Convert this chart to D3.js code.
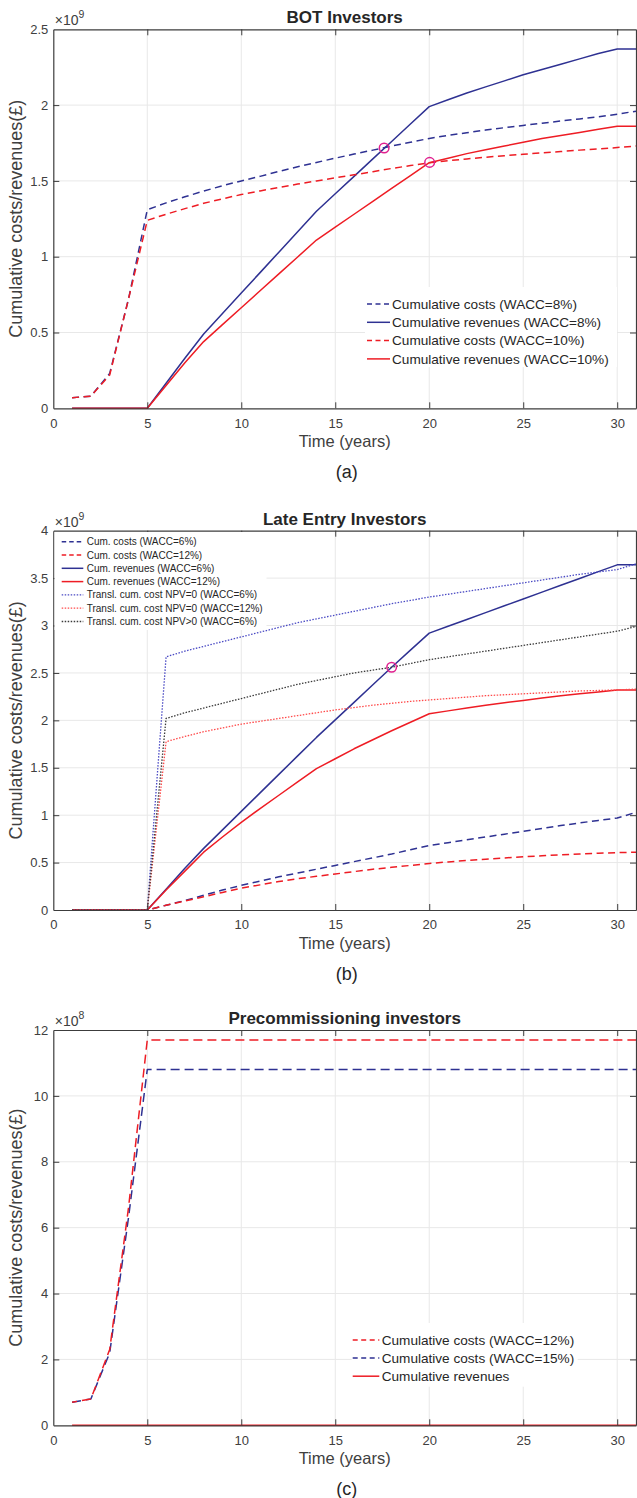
<!DOCTYPE html>
<html>
<head>
<meta charset="utf-8">
<script src="https://cdn.jsdelivr.net/npm/d3@7"></script>
<style>
  html, body { margin: 0; padding: 0; background: #fff; }
  svg { display: block; font-family: "Liberation Sans", Arial, Helvetica, sans-serif; }
</style>
</head>
<body>
<svg id="chart" width="637" height="1498"></svg>
<script>
// ---------------- DATA ----------------
const years = d3.range(1, 32); // 1..31
const xTicks = [0, 5, 10, 15, 20, 25, 30];

// Panel (a) BOT Investors, values in 1e9 GBP
const aTicks = [0, 0.5, 1, 1.5, 2, 2.5];
const aCostW8 = [0.07,0.08,0.23,0.72,1.31,1.355,1.395,1.433,1.468,1.50,1.53,1.563,1.593,1.622,1.65,1.677,1.703,1.73,1.755,1.78,1.80,1.818,1.835,1.851,1.866,1.881,1.895,1.909,1.922,1.94,1.96];
const aRevW8  = [0,0,0,0,0,0.165,0.33,0.49,0.625,0.76,0.895,1.03,1.165,1.30,1.415,1.53,1.645,1.76,1.875,1.99,2.035,2.08,2.12,2.16,2.20,2.235,2.27,2.305,2.34,2.37,2.37];
const aCostW10 = [0.07,0.08,0.22,0.72,1.24,1.28,1.317,1.352,1.382,1.41,1.434,1.457,1.479,1.50,1.52,1.54,1.561,1.582,1.601,1.62,1.633,1.645,1.656,1.666,1.676,1.685,1.694,1.703,1.711,1.72,1.73];
const aRevW10  = [0,0,0,0,0,0.15,0.30,0.44,0.552,0.663,0.775,0.887,0.998,1.11,1.195,1.28,1.365,1.45,1.535,1.62,1.65,1.68,1.705,1.73,1.755,1.78,1.80,1.82,1.84,1.86,1.86];
const aMarkX = [17.6, 20.02];
const aMarkY = [1.717, 1.622];
const aLegend = ["Cumulative costs (WACC=8%)", "Cumulative revenues (WACC=8%)", "Cumulative costs (WACC=10%)", "Cumulative revenues (WACC=10%)"];

// Panel (b) Late Entry Investors, values in 1e9 GBP
const bTicks = [0, 0.5, 1, 1.5, 2, 2.5, 3, 3.5, 4];
const bCostW6  = [0,0,0,0,0,0.05,0.10,0.155,0.21,0.26,0.305,0.35,0.39,0.43,0.47,0.51,0.55,0.59,0.635,0.68,0.71,0.74,0.77,0.80,0.83,0.86,0.89,0.918,0.945,0.97,1.03];
const bCostW12 = [0,0,0,0,0,0.05,0.095,0.14,0.185,0.23,0.265,0.30,0.33,0.355,0.38,0.405,0.43,0.45,0.47,0.49,0.507,0.522,0.536,0.549,0.561,0.572,0.582,0.591,0.599,0.605,0.61];
const bRevW6   = [0,0,0,0,0,0.22,0.44,0.65,0.845,1.04,1.235,1.43,1.625,1.82,2.005,2.19,2.375,2.56,2.74,2.92,2.992,3.064,3.136,3.208,3.28,3.352,3.424,3.496,3.568,3.64,3.64];
const bRevW12  = [0,0,0,0,0,0.21,0.41,0.61,0.77,0.925,1.07,1.21,1.35,1.49,1.595,1.70,1.795,1.89,1.98,2.07,2.10,2.13,2.16,2.185,2.21,2.235,2.26,2.28,2.30,2.32,2.32];
const bTranslNpv0W6  = [0,0,0,0,0,2.67,2.73,2.78,2.83,2.88,2.93,2.98,3.03,3.07,3.11,3.15,3.19,3.23,3.265,3.30,3.33,3.36,3.39,3.42,3.45,3.48,3.51,3.54,3.565,3.59,3.65];
const bTranslNpv0W12 = [0,0,0,0,0,1.775,1.83,1.88,1.92,1.96,1.99,2.02,2.05,2.08,2.11,2.135,2.16,2.18,2.20,2.215,2.23,2.245,2.26,2.27,2.28,2.29,2.30,2.31,2.315,2.32,2.33];
const bTranslNpvPosW6 = [0,0,0,0,0,2.02,2.08,2.13,2.18,2.23,2.28,2.33,2.38,2.42,2.46,2.50,2.53,2.56,2.60,2.64,2.67,2.70,2.73,2.76,2.79,2.82,2.85,2.88,2.91,2.94,2.99];
const bMarkX = [18.0];
const bMarkY = [2.56];
const bLegend = ["Cum. costs (WACC=6%)", "Cum. costs (WACC=12%)", "Cum. revenues (WACC=6%)", "Cum. revenues (WACC=12%)",
  "Transl. cum. cost NPV=0 (WACC=6%)", "Transl. cum. cost NPV=0 (WACC=12%)", "Transl. cum. cost NPV>0 (WACC=6%)"];

// Panel (c) Precommissioning investors, values in 1e8 GBP
const cTicks = [0, 2, 4, 6, 8, 10, 12];
const cCostW12 = [0.7,0.8,2.3,6.6,11.7,11.7,11.7,11.7,11.7,11.7,11.7,11.7,11.7,11.7,11.7,11.7,11.7,11.7,11.7,11.7,11.7,11.7,11.7,11.7,11.7,11.7,11.7,11.7,11.7,11.7,11.7];
const cCostW15 = [0.7,0.8,2.2,6.3,10.8,10.8,10.8,10.8,10.8,10.8,10.8,10.8,10.8,10.8,10.8,10.8,10.8,10.8,10.8,10.8,10.8,10.8,10.8,10.8,10.8,10.8,10.8,10.8,10.8,10.8,10.8];
const cRev = [0,0,0,0,0,0,0,0,0,0,0,0,0,0,0,0,0,0,0,0,0,0,0,0,0,0,0,0,0,0,0];
const cLegend = ["Cumulative costs (WACC=12%)", "Cumulative costs (WACC=15%)", "Cumulative revenues"];

// ---------------- STYLE ----------------
const BLUE = "#2e3192", RED = "#ee1c24", BLUE_DOT = "#4a4ac4", RED_DOT = "#ff4a4a", BLACK_DOT = "#3a3a3a", MAG = "#e0208f";
const AX = "#3c3c3c", TXT = "#404040", GRID = "#e8e8e8";
const L = 53.3, R = 636;

const svg = d3.select("#chart");

function drawPanel(p) {
  const g = svg.append("g");
  const x = d3.scaleLinear().domain([0, 31]).range([L, R]);
  const y = d3.scaleLinear().domain([0, p.ymax]).range([p.bottom, p.top]);

  // grid
  g.append("g").selectAll("line").data(xTicks.filter(d => d > 0)).join("line")
    .attr("x1", d => x(d)).attr("x2", d => x(d)).attr("y1", p.top).attr("y2", p.bottom)
    .attr("stroke", GRID).attr("stroke-width", 1);
  g.append("g").selectAll("line").data(p.yTicks.filter(d => d > 0 && d < p.ymax)).join("line")
    .attr("x1", L).attr("x2", R).attr("y1", d => y(d)).attr("y2", d => y(d))
    .attr("stroke", GRID).attr("stroke-width", 1);

  // series
  const line = d3.line().x((d, i) => x(years[i])).y(d => y(d));
  p.series.forEach(s => {
    g.append("path").datum(s.values).attr("d", line)
      .attr("fill", "none").attr("stroke", s.color).attr("stroke-width", s.width || 1.5)
      .attr("stroke-dasharray", s.dash || null).attr("stroke-dashoffset", s.offset || 0)
      .attr("stroke-linejoin", "round");
  });

  // markers
  if (p.marks) {
    g.append("g").selectAll("circle").data(p.marks.x).join("circle")
      .attr("cx", d => x(d)).attr("cy", (d, i) => y(p.marks.y[i])).attr("r", 4.8)
      .attr("fill", "none").attr("stroke", MAG).attr("stroke-width", 1.5);
  }

  // axes
  const fmt = d3.format("~g");
  const bx = g.append("g").attr("transform", `translate(0,${p.bottom})`)
    .call(d3.axisBottom(x).tickValues(xTicks).tickSize(-6).tickSizeOuter(0).tickPadding(10).tickFormat(fmt));
  const tx = g.append("g").attr("transform", `translate(0,${p.top})`)
    .call(d3.axisTop(x).tickValues(xTicks).tickSize(-6).tickSizeOuter(0).tickFormat(""));
  const ly = g.append("g").attr("transform", `translate(${L},0)`)
    .call(d3.axisLeft(y).tickValues(p.yTicks).tickSize(-6).tickSizeOuter(0).tickPadding(5).tickFormat(fmt));
  const ry = g.append("g").attr("transform", `translate(${R},0)`)
    .call(d3.axisRight(y).tickValues(p.yTicks).tickSize(-6).tickSizeOuter(0).tickFormat(""));
  [bx, tx, ly, ry].forEach(a => {
    a.select(".domain").attr("stroke", AX).attr("stroke-width", 1.2);
    a.selectAll(".tick line").attr("stroke", AX).attr("stroke-width", 1);
    a.selectAll(".tick text").attr("fill", TXT).style("font-size", "13px")
      .style("font-family", '"Liberation Sans", Arial, sans-serif');
  });
  bx.selectAll(".tick").filter(d => d === 0).select("line").remove();
  tx.selectAll(".tick").filter(d => d === 0).select("line").remove();
  ly.selectAll(".tick").filter(d => d === 0 || d === p.ymax).select("line").remove();
  ry.selectAll(".tick").filter(d => d === 0 || d === p.ymax).select("line").remove();

  // exponent
  const ex = g.append("text").attr("x", L + 1.5).attr("y", p.top - 4).attr("fill", TXT)
    .style("font-size", "14px");
  ex.append("tspan").text("\u00d710");
  ex.append("tspan").attr("dy", -7).style("font-size", "10.5px").text(p.exp);

  // title
  g.append("text").attr("x", (L + R) / 2).attr("y", p.top - 6).attr("text-anchor", "middle")
    .attr("fill", "#262626").style("font-size", "17px").style("font-weight", "bold").text(p.title);

  // x label
  g.append("text").attr("x", (L + R) / 2).attr("y", p.bottom + 38.5).attr("text-anchor", "middle")
    .attr("fill", TXT).style("font-size", "16.5px").text("Time (years)");
  // caption
  g.append("text").attr("x", (L + R) / 2 + 2).attr("y", p.bottom + 69.5).attr("text-anchor", "middle")
    .attr("fill", "#262626").style("font-size", "18px").text(p.caption);
  // y label
  g.append("text").attr("transform", `translate(21.5,${(p.top + p.bottom) / 2}) rotate(-90)`)
    .attr("text-anchor", "middle").attr("fill", TXT).style("font-size", "18px")
    .text("Cumulative costs/revenues(\u00a3)");

  // legend
  const lg = p.legend;
  const leg = g.append("g");
  leg.append("rect").attr("x", lg.box[0]).attr("y", lg.box[1]).attr("width", lg.box[2]).attr("height", lg.box[3])
    .attr("fill", "#fff");
  lg.items.forEach((it, i) => {
    const yy = lg.y0 + i * lg.dy;
    leg.append("line").attr("x1", lg.x1).attr("x2", lg.x2).attr("y1", yy).attr("y2", yy)
      .attr("stroke", it.color).attr("stroke-width", it.width || 1.5).attr("stroke-dasharray", it.dash || null);
    leg.append("text").attr("x", lg.tx).attr("y", yy).attr("dy", "0.35em").attr("fill", "#262626")
      .style("font-size", lg.fs + "px").text(it.label);
  });
}

// ---------------- PANELS ----------------
const DASH = "7,4.5", DOT = "1.5,1.5";

drawPanel({
  title: "BOT Investors", caption: "(a)", exp: "9",
  top: 29.3, bottom: 408.3, ymax: 2.5, yTicks: aTicks,
  series: [
    { values: aCostW8, color: BLUE, dash: DASH },
    { values: aRevW8, color: BLUE },
    { values: aCostW10, color: RED, dash: DASH },
    { values: aRevW10, color: RED }
  ],
  marks: { x: aMarkX, y: aMarkY },
  legend: {
    box: [365, 287, 252, 80], x1: 367, x2: 390, tx: 392, y0: 304, dy: 18.3, fs: 13.6,
    items: [
      { label: aLegend[0], color: BLUE, dash: "5,3.5" },
      { label: aLegend[1], color: BLUE },
      { label: aLegend[2], color: RED, dash: "5,3.5" },
      { label: aLegend[3], color: RED }
    ]
  }
});

drawPanel({
  title: "Late Entry Investors", caption: "(b)", exp: "9",
  top: 530.7, bottom: 910, ymax: 4, yTicks: bTicks,
  series: [
    { values: bCostW6, color: BLUE, dash: DASH },
    { values: bCostW12, color: RED, dash: DASH },
    { values: bRevW6, color: BLUE },
    { values: bRevW12, color: RED },
    { values: bTranslNpv0W6, color: BLUE_DOT, dash: DOT, width: 1.3 },
    { values: bTranslNpv0W12, color: RED_DOT, dash: DOT, width: 1.3 },
    { values: bTranslNpvPosW6, color: BLACK_DOT, dash: DOT, width: 1.3 }
  ],
  marks: { x: bMarkX, y: bMarkY },
  legend: {
    box: [54.5, 532, 212, 98], x1: 61.7, x2: 83.3, tx: 86.7, y0: 541.7, dy: 13.3, fs: 10,
    items: [
      { label: bLegend[0], color: BLUE, dash: "4.5,3" },
      { label: bLegend[1], color: RED, dash: "4.5,3" },
      { label: bLegend[2], color: BLUE },
      { label: bLegend[3], color: RED },
      { label: bLegend[4], color: BLUE_DOT, dash: DOT, width: 1.3 },
      { label: bLegend[5], color: RED_DOT, dash: DOT, width: 1.3 },
      { label: bLegend[6], color: BLACK_DOT, dash: DOT, width: 1.3 }
    ]
  }
});

drawPanel({
  title: "Precommissioning investors", caption: "(c)", exp: "8",
  top: 1030, bottom: 1425.3, ymax: 12, yTicks: cTicks,
  series: [
    { values: cCostW15, color: BLUE, dash: "9,5" },
    { values: cCostW12, color: RED, dash: "9,5", offset: 4 },
    { values: cRev, color: RED }
  ],
  legend: {
    box: [351.7, 1323, 226, 63.7], x1: 352.7, x2: 379.3, tx: 381.7, y0: 1340, dy: 18.1, fs: 13.6,
    items: [
      { label: cLegend[0], color: RED, dash: "5,3.5" },
      { label: cLegend[1], color: BLUE, dash: "5,3.5" },
      { label: cLegend[2], color: RED }
    ]
  }
});
</script>
</body>
</html>
